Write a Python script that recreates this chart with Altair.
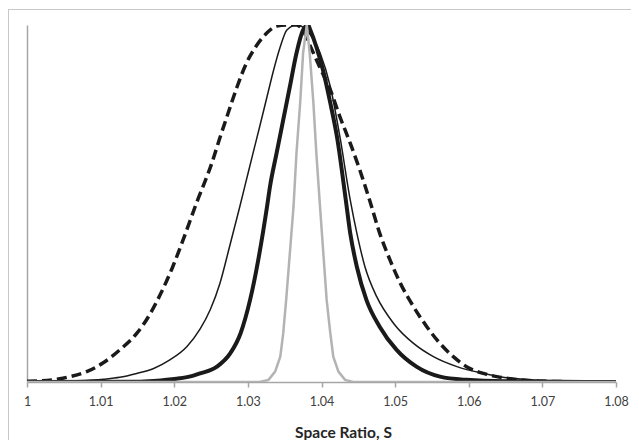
import altair as alt
import pandas as pd

# ---- data ----
dash_x = [1.0000, 1.0035, 1.0058, 1.0081, 1.0103, 1.0126, 1.0149, 1.0167, 1.0181, 1.0197,
          1.0212, 1.0230, 1.0251, 1.0262, 1.0273, 1.0285, 1.0298, 1.0312, 1.0326, 1.0339,
          1.0352, 1.0366, 1.0375, 1.0385, 1.0398, 1.0412, 1.0425, 1.0439, 1.0452, 1.0466,
          1.0479, 1.0493, 1.0507, 1.0525, 1.0543, 1.0561, 1.0579, 1.0597, 1.0620, 1.0638,
          1.0660, 1.0683, 1.0701, 1.0800]
dash_y = [0.002, 0.006, 0.015, 0.029, 0.053, 0.090, 0.136, 0.190, 0.245, 0.318,
          0.398, 0.500, 0.613, 0.684, 0.752, 0.825, 0.893, 0.943, 0.978, 0.997,
          1.000, 1.000, 0.985, 0.940, 0.880, 0.818, 0.743, 0.669, 0.594, 0.505,
          0.417, 0.342, 0.277, 0.211, 0.155, 0.108, 0.071, 0.043, 0.024, 0.015,
          0.008, 0.004, 0.002, 0.000]

thin_x = [1.0000, 1.0058, 1.0104, 1.0126, 1.0149, 1.0172, 1.0194, 1.0217, 1.0235, 1.0249,
          1.0262, 1.0275, 1.0289, 1.0298, 1.0307, 1.0316, 1.0326, 1.0335, 1.0344, 1.0353,
          1.0366, 1.0380, 1.0398, 1.0412, 1.0425, 1.0439, 1.0448, 1.0459, 1.0475, 1.0498,
          1.0525, 1.0552, 1.0584, 1.0620, 1.0642, 1.0683, 1.0724, 1.0800]
thin_y = [0.000, 0.003, 0.008, 0.013, 0.024, 0.038, 0.062, 0.099, 0.148, 0.203,
          0.276, 0.378, 0.491, 0.566, 0.641, 0.715, 0.799, 0.874, 0.939, 0.986,
          1.000, 0.985, 0.922, 0.827, 0.687, 0.510, 0.417, 0.323, 0.239, 0.164,
          0.108, 0.071, 0.043, 0.024, 0.015, 0.006, 0.002, 0.000]

thick_x = [1.0000, 1.0150, 1.0172, 1.0203, 1.0226, 1.0235, 1.0258, 1.0276, 1.0290, 1.0303,
           1.0326, 1.0330, 1.0339, 1.0348, 1.0357, 1.0366, 1.0375, 1.0382, 1.0384, 1.0393,
           1.0402, 1.0412, 1.0421, 1.0433, 1.0439, 1.0448, 1.0461, 1.0479, 1.0502, 1.0529,
           1.0561, 1.0597, 1.0650, 1.0800]
thick_y = [0.000, 0.001, 0.003, 0.009, 0.018, 0.024, 0.043, 0.080, 0.136, 0.230,
           0.491, 0.547, 0.641, 0.734, 0.827, 0.921, 0.986, 1.000, 0.990, 0.939,
           0.874, 0.781, 0.687, 0.510, 0.417, 0.323, 0.230, 0.155, 0.090, 0.043,
           0.015, 0.006, 0.002, 0.000]

gray_x = [1.0000, 1.0316, 1.0328, 1.0337, 1.0344, 1.0348, 1.0352, 1.0362, 1.0366, 1.0371,
          1.0375, 1.0380, 1.0384, 1.0389, 1.0393, 1.0398, 1.0407, 1.0412, 1.0416, 1.0423,
          1.0432, 1.0443, 1.0800]
gray_y = [0.000, 0.000, 0.006, 0.029, 0.071, 0.136, 0.230, 0.491, 0.641, 0.781,
          0.921, 1.000, 0.921, 0.781, 0.641, 0.491, 0.230, 0.136, 0.071, 0.029,
          0.006, 0.000, 0.000]

x_ticks = [1.00, 1.01, 1.02, 1.03, 1.04, 1.05, 1.06, 1.07, 1.08]
x_title = "Space Ratio, S"

# ---- chart ----
xscale = alt.Scale(domain=[1.0, 1.08], nice=False, zero=False)
yscale = alt.Scale(domain=[0, 1], nice=False)

xaxis = alt.Axis(values=x_ticks, format=".2~f", title=x_title, grid=False,
                 domainColor="#a6a6a6", domainWidth=1.5, tickColor="#a6a6a6",
                 tickSize=5, tickWidth=1.5, labelFont="Lato", labelFontSize=12.5,
                 labelColor="#404040", labelPadding=8.5, labelFlush=False,
                 titleFont="Lato", titleFontSize=15.5, titleFontWeight="bold",
                 titleColor="#262626", titleX=316, titleY=55,
                 titleBaseline="alphabetic", titleAlign="center")
yaxis = alt.Axis(title=None, labels=False, ticks=False, grid=False,
                 domainColor="#a6a6a6", domainWidth=1.5)


def curve(xs, ys, color, width, dash=None, interp="monotone"):
    df = pd.DataFrame({"s": xs, "v": ys})
    kw = dict(color=color, strokeWidth=width, interpolate=interp, clip=True)
    if dash:
        kw["strokeDash"] = dash
    return alt.Chart(df).mark_line(**kw).encode(
        x=alt.X("s:Q", scale=xscale, axis=xaxis),
        y=alt.Y("v:Q", scale=yscale, axis=yaxis),
    )


one = pd.DataFrame({"k": [0]})
border_top = alt.Chart(one).mark_rule(color="#c8c8c8", strokeWidth=1).encode(
    x=alt.value(-19), x2=alt.value(630), y=alt.value(-15.5))
border_left = alt.Chart(one).mark_rule(color="#c8c8c8", strokeWidth=1).encode(
    x=alt.value(-18.5), y=alt.value(-16), y2=alt.value(440))

chart = alt.layer(
    border_top,
    border_left,
    curve(dash_x, dash_y, "#1a1a1a", 3.5, dash=[10, 5]),
    curve(thin_x, thin_y, "#1a1a1a", 1.5),
    curve(thick_x, thick_y, "#1a1a1a", 4),
    curve(gray_x, gray_y, "#b3b3b3", 2.5, interp="linear"),
).properties(
    width=589, height=357,
    autosize=alt.AutoSizeParams(type="none"),
    padding={"left": 19, "top": 17, "right": 15, "bottom": 58},
    background="white",
).configure_view(stroke=None)

chart.save("out.html", embed_options={"renderer": "svg", "actions": False})
